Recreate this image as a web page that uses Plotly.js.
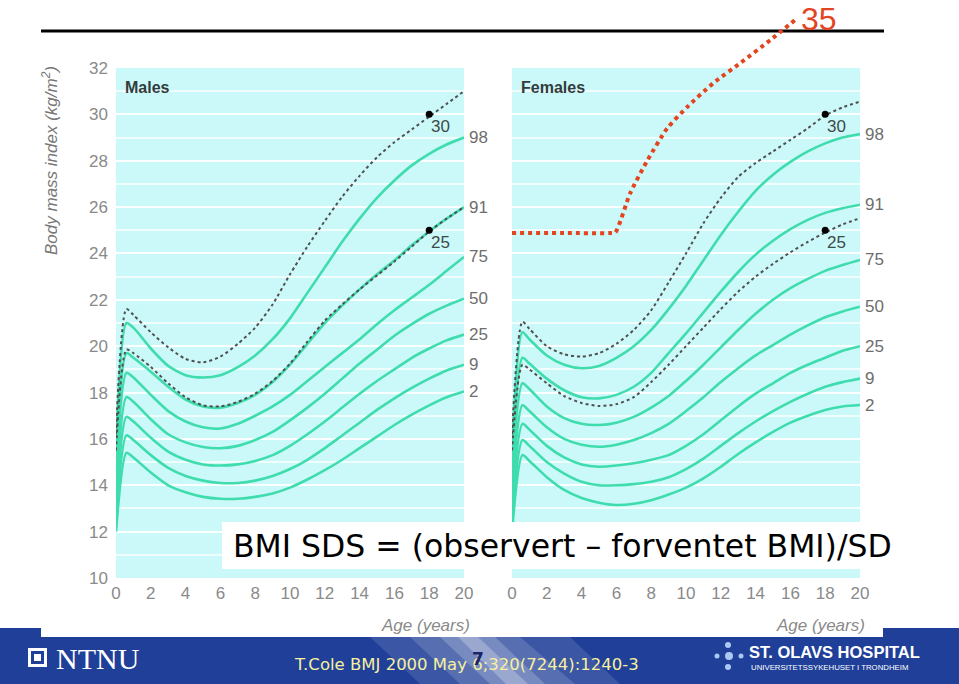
<!DOCTYPE html>
<html><head><meta charset="utf-8">
<script src="https://cdn.plot.ly/plotly-3.0.1.min.js"></script>
<style>html,body{margin:0;padding:0;background:#fff}#chart{width:959px;height:684px}</style>
</head><body><div id="chart"></div>
<script>
// ---------- data ----------
const ages = [0, 0.6, 1, 2, 3, 4, 5, 6, 7, 8, 9, 10, 11, 12, 13, 14, 15, 16, 17, 18, 19, 20];
const centileNames = ['98', '91', '75', '50', '25', '9', '2'];

const male98 = [15.6, 21.0, 20.8, 19.9, 19.15, 18.75, 18.65, 18.75, 19.1, 19.6, 20.3, 21.2, 22.3, 23.4, 24.5, 25.5, 26.4, 27.15, 27.8, 28.3, 28.7, 29.0];
const male91 = [15.0, 19.7, 19.5, 18.9, 18.25, 17.7, 17.4, 17.35, 17.55, 17.9, 18.45, 19.2, 20.1, 21.0, 21.75, 22.45, 23.1, 23.7, 24.35, 24.95, 25.5, 26.0];
const male75 = [14.4, 18.85, 18.65, 17.9, 17.2, 16.75, 16.5, 16.45, 16.65, 17.0, 17.4, 17.9, 18.5, 19.1, 19.7, 20.3, 20.95, 21.55, 22.1, 22.65, 23.25, 23.85];
const male50 = [13.8, 17.8, 17.6, 16.85, 16.2, 15.85, 15.65, 15.6, 15.7, 15.95, 16.3, 16.8, 17.35, 17.95, 18.6, 19.25, 19.85, 20.45, 20.95, 21.4, 21.75, 22.05];
const male25 = [13.2, 16.95, 16.75, 16.05, 15.45, 15.1, 14.9, 14.85, 14.9, 15.05, 15.3, 15.7, 16.2, 16.75, 17.35, 17.95, 18.5, 19.0, 19.5, 19.9, 20.25, 20.5];
const male9  = [12.6, 16.15, 15.95, 15.3, 14.75, 14.4, 14.2, 14.1, 14.1, 14.2, 14.4, 14.7, 15.1, 15.6, 16.15, 16.7, 17.25, 17.75, 18.2, 18.6, 18.95, 19.2];
const male2  = [12.0, 15.4, 15.2, 14.55, 14.0, 13.7, 13.5, 13.42, 13.42, 13.5, 13.65, 13.9, 14.25, 14.65, 15.1, 15.6, 16.1, 16.6, 17.05, 17.45, 17.8, 18.05];
const maleCut30 = [16.2, 21.6, 21.35, 20.6, 19.95, 19.45, 19.3, 19.55, 20.1, 20.8, 21.8, 23.1, 24.3, 25.4, 26.45, 27.35, 28.15, 28.8, 29.35, 29.9, 30.45, 31.0];
const maleCut25 = [15.5, 19.85, 19.7, 19.1, 18.4, 17.8, 17.45, 17.4, 17.6, 17.95, 18.5, 19.25, 20.2, 21.1, 21.8, 22.45, 23.05, 23.65, 24.3, 24.95, 25.5, 26.0];

const female98 = [15.6, 20.6, 20.3, 19.6, 19.2, 19.05, 19.15, 19.5, 20.0, 20.7, 21.6, 22.6, 23.7, 24.8, 25.8, 26.7, 27.4, 27.95, 28.4, 28.75, 29.0, 29.15];
const female91 = [15.0, 19.5, 19.25, 18.6, 18.1, 17.8, 17.75, 17.9, 18.25, 18.85, 19.7, 20.55, 21.45, 22.35, 23.2, 23.95, 24.55, 25.05, 25.45, 25.75, 25.95, 26.1];
const female75 = [14.4, 18.4, 18.15, 17.4, 16.9, 16.65, 16.6, 16.7, 16.95, 17.35, 17.85, 18.5, 19.2, 19.95, 20.7, 21.4, 22.0, 22.5, 22.9, 23.25, 23.5, 23.72];
const female50 = [13.8, 17.45, 17.2, 16.5, 16.0, 15.75, 15.66, 15.75, 15.95, 16.25, 16.65, 17.2, 17.8, 18.45, 19.05, 19.6, 20.05, 20.5, 20.9, 21.25, 21.5, 21.7];
const female25 = [13.2, 16.65, 16.4, 15.7, 15.2, 14.9, 14.8, 14.85, 14.95, 15.1, 15.3, 15.7, 16.2, 16.8, 17.4, 17.95, 18.4, 18.85, 19.2, 19.5, 19.8, 20.0];
const female9  = [12.6, 15.95, 15.7, 15.0, 14.5, 14.15, 14.0, 14.0, 14.05, 14.15, 14.35, 14.7, 15.15, 15.7, 16.25, 16.75, 17.2, 17.6, 17.95, 18.25, 18.45, 18.6];
const female2  = [12.0, 15.3, 15.05, 14.35, 13.8, 13.45, 13.25, 13.15, 13.2, 13.35, 13.6, 13.9, 14.3, 14.8, 15.35, 15.85, 16.3, 16.7, 17.0, 17.25, 17.4, 17.46];
const femaleCut30 = [16.2, 21.05, 20.75, 20.0, 19.65, 19.55, 19.7, 20.1, 20.7, 21.55, 22.75, 24.0, 25.3, 26.4, 27.3, 27.9, 28.4, 28.9, 29.4, 29.95, 30.3, 30.55];
const femaleCut25 = [15.5, 19.2, 19.0, 18.4, 17.85, 17.55, 17.42, 17.5, 17.8, 18.45, 19.2, 20.0, 20.8, 21.6, 22.35, 23.0, 23.55, 24.05, 24.5, 24.9, 25.25, 25.52];

const cutoffAge = 18;
const cutoffValues = [30, 25];
const cutoffNames = ['30', '25'];

// hand-drawn red "35" curve (female panel coordinates)
const red35Age = [0, 3, 5.6, 5.93, 6.79, 7.77, 8.92, 10.07, 11.57, 13.13, 14.85, 16.41];
const red35Bmi = [24.88, 24.88, 24.88, 24.9, 26.6, 28.0, 29.4, 30.32, 31.35, 32.22, 33.21, 34.16];

const xTicks = [0, 2, 4, 6, 8, 10, 12, 14, 16, 18, 20];
const yTicks = [10, 12, 14, 16, 18, 20, 22, 24, 26, 28, 30, 32];

// ---------- styling ----------
const W = 959, H = 684;
const px = v => v / W;
const py = v => 1 - v / H;
const SANS = "'Liberation Sans', Arial, sans-serif";
const GREEN = '#3fdcae';
const DOT = '#505050';
const BG = '#cbf9f9';
const NAVY = '#1f3f98';

const maleCent = [male98, male91, male75, male50, male25, male9, male2];
const femaleCent = [female98, female91, female75, female50, female25, female9, female2];

const traces = [];
function addPanel(cent, cut30, cut25, xa, ya) {
  cent.forEach(arr => traces.push({
    type: 'scatter', mode: 'lines', x: ages, y: arr, xaxis: xa, yaxis: ya,
    line: {color: GREEN, width: 2.6, shape: 'spline', smoothing: 0.7}, hoverinfo: 'skip'
  }));
  [cut30, cut25].forEach(arr => traces.push({
    type: 'scatter', mode: 'lines', x: ages, y: arr, xaxis: xa, yaxis: ya,
    line: {color: DOT, width: 2, dash: 'dot', shape: 'spline', smoothing: 0.7}, hoverinfo: 'skip'
  }));
  traces.push({
    type: 'scatter', mode: 'markers', x: cutoffValues.map(() => cutoffAge), y: cutoffValues,
    xaxis: xa, yaxis: ya, marker: {color: '#000', size: 7}, hoverinfo: 'skip'
  });
}
addPanel(maleCent, maleCut30, maleCut25, 'x', 'y');
addPanel(femaleCent, femaleCut30, femaleCut25, 'x2', 'y2');
traces.push({
  type: 'scatter', mode: 'lines', x: red35Age, y: red35Bmi, xaxis: 'x3', yaxis: 'y3',
  line: {color: '#e2451f', width: 4, dash: 'dot', shape: 'spline', smoothing: 0.6}, hoverinfo: 'skip'
});

const yDom = [py(578), py(68)];
const tickFont = {family: SANS, size: 17, color: '#8a8a8a'};
function xAxis(dom, anchor) {
  return {domain: dom, range: [0, 20], tickvals: xTicks, showgrid: false, zeroline: false,
    showline: false, ticks: '', tickfont: tickFont, anchor: anchor, fixedrange: true, ticklabelstandoff: 3};
}
function yAxis(anchor, labels) {
  return {domain: yDom, range: [10, 32], tickvals: yTicks, showticklabels: labels,
    showgrid: true, gridcolor: 'rgba(255,255,255,0.7)', gridwidth: 2,
    minor: {dtick: 1, tick0: 10, showgrid: true, gridcolor: 'rgba(255,255,255,0.7)', gridwidth: 2},
    zeroline: false, showline: false, ticks: '', tickfont: tickFont, anchor: anchor,
    fixedrange: true, ticklabelstandoff: 7};
}

const shapes = [
  {type: 'rect', xref: 'x', yref: 'y', x0: 0, x1: 20, y0: 10, y1: 32, fillcolor: BG, line: {width: 0}, layer: 'below'},
  {type: 'rect', xref: 'x2', yref: 'y2', x0: 0, x1: 20, y0: 10, y1: 32, fillcolor: BG, line: {width: 0}, layer: 'below'},
  {type: 'line', xref: 'paper', yref: 'paper', x0: px(41), x1: px(884), y0: py(31), y1: py(31), line: {color: '#000', width: 3}, layer: 'below'},
  {type: 'rect', xref: 'paper', yref: 'paper', x0: px(222), x1: px(900), y0: py(569), y1: py(522), fillcolor: '#fff', line: {width: 0}, layer: 'above'},
  // footer
  {type: 'rect', xref: 'paper', yref: 'paper', x0: 0, x1: 1, y0: 0, y1: py(637), fillcolor: NAVY, line: {width: 0}, layer: 'above'},
  {type: 'rect', xref: 'paper', yref: 'paper', x0: 0, x1: px(41), y0: py(638), y1: py(628), fillcolor: NAVY, line: {width: 0}, layer: 'above'},
  {type: 'rect', xref: 'paper', yref: 'paper', x0: px(883), x1: 1, y0: py(638), y1: py(628), fillcolor: NAVY, line: {width: 0}, layer: 'above'},
  {type: 'path', xref: 'paper', yref: 'paper', layer: 'above', line: {width: 0}, fillcolor: 'rgba(255,255,255,0.12)',
   path: `M ${px(370)} ${py(637)} L ${px(570)} ${py(637)} L ${px(620)} 0 L ${px(420)} 0 Z`},
  {type: 'path', xref: 'paper', yref: 'paper', layer: 'above', line: {width: 0}, fillcolor: 'rgba(255,255,255,0.15)',
   path: `M ${px(410)} ${py(637)} L ${px(520)} ${py(637)} L ${px(575)} 0 L ${px(460)} 0 Z`},
  {type: 'path', xref: 'paper', yref: 'paper', layer: 'above', line: {width: 0}, fillcolor: 'rgba(255,255,255,0.2)',
   path: `M ${px(440)} ${py(637)} L ${px(495)} ${py(637)} L ${px(545)} 0 L ${px(490)} 0 Z`},
  {type: 'path', xref: 'paper', yref: 'paper', layer: 'above', line: {width: 0}, fillcolor: 'rgba(255,255,255,0.25)',
   path: `M ${px(458)} ${py(637)} L ${px(478)} ${py(637)} L ${px(528)} 0 L ${px(506)} 0 Z`},
  // NTNU icon
  {type: 'rect', xref: 'paper', yref: 'paper', x0: px(28), x1: px(47), y0: py(667), y1: py(648), fillcolor: '#fff', line: {width: 0}, layer: 'above'},
  {type: 'rect', xref: 'paper', yref: 'paper', x0: px(31), x1: px(44), y0: py(664), y1: py(651), fillcolor: NAVY, line: {width: 0}, layer: 'above'},
  {type: 'rect', xref: 'paper', yref: 'paper', x0: px(34), x1: px(41), y0: py(661), y1: py(654), fillcolor: '#fff', line: {width: 0}, layer: 'above'}
];
// St. Olavs dot logo
[[728, 645, 3], [717, 656, 2.5], [729, 656, 4], [741, 656, 2.5], [728, 667, 3]].forEach(([cx, cy, r]) => shapes.push({
  type: 'circle', xref: 'paper', yref: 'paper', x0: px(cx - r), x1: px(cx + r), y0: py(cy + r), y1: py(cy - r),
  fillcolor: '#a9c9f2', line: {width: 0}, layer: 'above'
}));

const annotations = [];
const labFont = {family: SANS, size: 17, color: '#6e6e6e'};
function note(o) {
  annotations.push(Object.assign({showarrow: false, xanchor: 'center', yanchor: 'middle'}, o));
}
function panelLabels(cent, xa, ya, title, titleX) {
  cent.forEach((arr, i) => note({
    xref: xa, yref: ya, x: 20, y: arr[arr.length - 1], text: centileNames[i],
    xanchor: 'left', xshift: 3, font: labFont
  }));
  cutoffValues.forEach((v, i) => note({
    xref: xa, yref: ya, x: cutoffAge, y: v, text: cutoffNames[i],
    xanchor: 'left', yanchor: 'top', yshift: -1, font: {family: SANS, size: 17, color: '#3d4b4b'}
  }));
  note({xref: 'paper', yref: 'paper', x: px(titleX), y: py(87), text: '<b>' + title + '</b>',
    xanchor: 'left', font: {family: SANS, size: 16, color: '#323c3c'}});
}
panelLabels(maleCent, 'x', 'y', 'Males', 123);
panelLabels(femaleCent, 'x2', 'y2', 'Females', 519);

note({xref: 'paper', yref: 'paper', x: px(50), y: py(161), text: '<i>Body mass index (kg/m<sup>2</sup>)</i>',
  textangle: -90, font: {family: SANS, size: 17, color: '#777'}});
note({xref: 'paper', yref: 'paper', x: px(472), y: py(625), xanchor: 'right', text: '<i>Age (years)</i>',
  font: {family: SANS, size: 17, color: '#8a8a8a'}});
note({xref: 'paper', yref: 'paper', x: px(867), y: py(625), xanchor: 'right', text: '<i>Age (years)</i>',
  font: {family: SANS, size: 17, color: '#8a8a8a'}});
note({xref: 'paper', yref: 'paper', x: px(231), y: py(546), xanchor: 'left', text: 'BMI SDS = (observert – forventet BMI)/SD',
  font: {family: "'DejaVu Sans', sans-serif", size: 31.5, color: '#000'}});
note({xref: 'x3', yref: 'y3', x: 17.62, y: 34.1, text: '35',
  font: {family: SANS, size: 32, color: '#e2451f'}});
note({xref: 'paper', yref: 'paper', x: px(54), y: py(658), xanchor: 'left', text: 'NTNU',
  font: {family: "'Liberation Serif', 'DejaVu Serif', serif", size: 30, color: '#fff'}});
note({xref: 'paper', yref: 'paper', x: px(466), y: py(664), text: 'T.Cole BMJ 2000 May 6;320(7244):1240-3',
  font: {family: "'DejaVu Sans', sans-serif", size: 16.5, color: '#f6f0a0'}});
note({xref: 'paper', yref: 'paper', x: px(478), y: py(659), text: '<b>7</b>',
  font: {family: "'DejaVu Sans', sans-serif", size: 17, color: '#1b2466'}});
note({xref: 'paper', yref: 'paper', x: px(747), y: py(652), xanchor: 'left', text: '<b>ST. OLAVS HOSPITAL</b>',
  font: {family: SANS, size: 16.5, color: '#fff'}});
note({xref: 'paper', yref: 'paper', x: px(749), y: py(667), xanchor: 'left', text: 'UNIVERSITETSSYKEHUSET I TRONDHEIM',
  font: {family: SANS, size: 7.8, color: '#fff'}});

const layout = {
  width: W, height: H, margin: {l: 0, r: 0, t: 0, b: 0},
  paper_bgcolor: '#fff', plot_bgcolor: 'rgba(0,0,0,0)', showlegend: false,
  xaxis: xAxis([px(116), px(464)], 'y'),
  yaxis: yAxis('x', true),
  xaxis2: xAxis([px(512), px(860)], 'y2'),
  yaxis2: yAxis('x2', false),
  xaxis3: {domain: [px(512), px(860)], range: [0, 20], visible: false, anchor: 'y3', fixedrange: true},
  yaxis3: {domain: [py(578), 1], range: [10, 10 + 578 / 23.18], visible: false, anchor: 'x3', fixedrange: true},
  shapes: shapes, annotations: annotations
};

Plotly.newPlot('chart', traces, layout, {displayModeBar: false, staticPlot: true});
</script></body></html>
